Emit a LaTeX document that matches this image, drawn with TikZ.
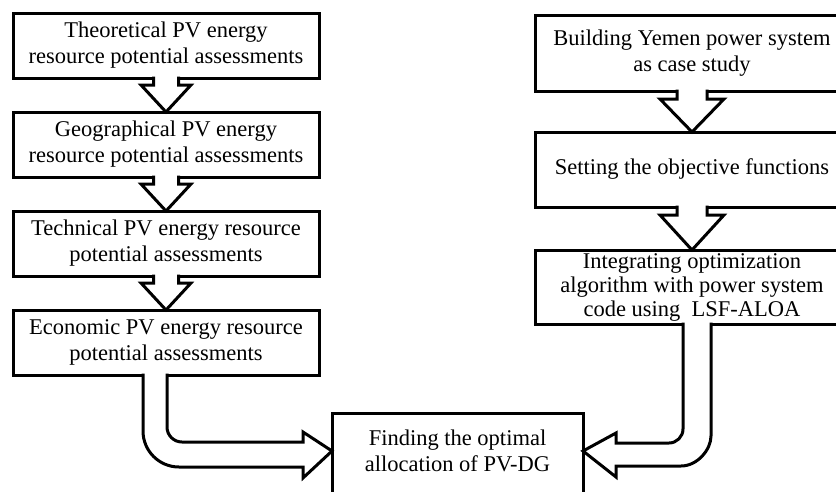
\documentclass[tikz,border=0pt]{standalone}
\usepackage{fontspec}
\setmainfont{Liberation Serif}
\usetikzlibrary{calc}
\begin{document}
\begin{tikzpicture}[x=1pt,y=-1pt,
  box/.style={draw, line width=3pt, inner sep=0pt, outer sep=0pt, align=center,
    font=\fontsize{22.5}{26}\selectfont, fill=white},
  lbox/.style={box, minimum width=306pt, minimum height=65pt},
  rbox/.style={box, minimum width=314pt},
  blk/.style={fill=white, draw=black, line width=3pt, line join=miter}]
\clip (0,0) rectangle (836,491);
\fill[white] (0,0) rectangle (836,491);

% left column
\node[lbox] (t1) at (166,45.5) {Theoretical PV energy\\resource potential assessments};
\node[lbox] (t2) at (166,144.5) {Geographical PV energy\\resource potential assessments};
\node[lbox] (t3) at (166,243.5) {Technical PV energy resource\\potential assessments};
\node[lbox] (t4) at (166,342.5) {Economic PV energy resource\\potential assessments};

% right column
\node[rbox, minimum height=76pt] (r1) at (692,53) {Building Yemen power system\\as case study};
\node[rbox, minimum height=75pt] (r2) at (692,169.5) {Setting the objective functions};
\node[rbox, minimum height=74pt, font=\fontsize{22.5}{24}\selectfont] (r3) at (692,287) {Integrating optimization\\algorithm with power system\\code using\ \ LSF-ALOA};

% bottom box
\node[box, draw=none, fill=none, minimum width=251pt, minimum height=76pt] (find) at (457.5,451) {Finding the optimal\\allocation of PV-DG};
\draw[line width=3pt] ($(find.south west)+(0,30)$) |- (find.north) -| ($(find.south east)+(0,30)$);

% left block arrows
\foreach \a/\b in {t1/t2,t2/t3,t3/t4}{
  \draw[blk] ($(\a.south)+(-12.5,-1.5)$) -- ($(\a.south)+(-12.5,7)$) -- ($(\a.south)+(-25,7)$)
    -- (\b.north) -- ($(\a.south)+(25,7)$) -- ($(\a.south)+(12.5,7)$) -- ($(\a.south)+(12.5,-1.5)$);
}
% right block arrows
\foreach \a/\b in {r1/r2,r2/r3}{
  \draw[blk] ($(\a.south)+(-15,-1.5)$) -- ($(\a.south)+(-15,8)$) -- ($(\a.south)+(-32,8)$)
    -- (\b.north) -- ($(\a.south)+(32,8)$) -- ($(\a.south)+(15,8)$) -- ($(\a.south)+(15,-1.5)$);
}

% left elbow arrow
\draw[blk] (143,373.5) -- (143,431) .. controls (143,450.9) and (159.1,467) .. (179,467)
  -- (303,467) -- (303,478) -- (find.west) -- (303,432) -- (303,442) -- (182,442)
  .. controls (173.7,442) and (167,435.3) .. (167,427) -- (167,373.5);

% right elbow arrow
\draw[blk] (683,322.5) -- (683,429) .. controls (683,436.7) and (676.7,443) .. (669,443)
  -- (616,443) -- (616,433) -- (find.east) -- (616,477) -- (616,466) -- (681,466)
  .. controls (697.6,466) and (711,449.4) .. (711,436) -- (711,322.5);
\end{tikzpicture}
\end{document}
